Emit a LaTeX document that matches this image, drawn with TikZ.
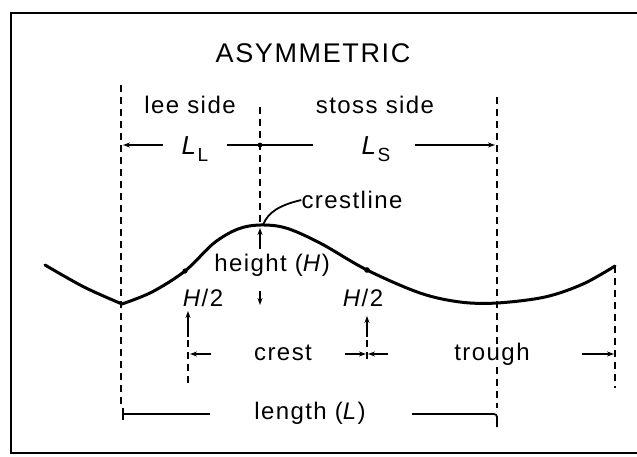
\documentclass[tikz,border=0pt]{standalone}
\usepackage{fontspec}
\setmainfont[LetterSpace=6]{Liberation Sans}
\usetikzlibrary{arrows.meta}
\begin{document}
\begin{tikzpicture}[x=1pt,y=-1pt,
  lbl/.style={font=\fontsize{24}{28}\selectfont, inner sep=0pt},
  ttl/.style={font=\fontsize{27}{30}\selectfont, inner sep=0pt},
  dashline/.style={dash pattern=on 7pt off 5pt, line width=1.8pt},
  arr/.style={line width=1.6pt, -{Stealth[length=7pt,width=5pt]}},
  plain/.style={line width=1.8pt},
  wave/.style={line width=3pt, line join=round, line cap=round},
  frame/.style={line width=2.2pt}]
\useasboundingbox (0,0) rectangle (637,456);
% frame (right side lies outside the picture)
\draw[frame] (660,13) -- (11,13) -- (11,453) -- (660,453);

% title and labels
\node[ttl] (title) at (313,53) {ASYMMETRIC};
\node[lbl] (lee) at (190,105) {lee side};
\node[lbl] (stoss) at (375,105) {stoss side};
\node[lbl] (LL) at (195,149) {\fontsize{26}{28}\selectfont\textit{L}\raisebox{-7pt}{\fontsize{19}{19}\selectfont L}};
\node[lbl] (LS) at (376,149) {\fontsize{26}{28}\selectfont\textit{L}\raisebox{-7pt}{\fontsize{19}{19}\selectfont S}};
\node[lbl] (crestline) at (352,200) {crestline};
\node[lbl] (height) at (272,265) {height (\textit{H})};
\node[lbl] (h2l) at (203,298) {\textit{H}/2};
\node[lbl] (h2r) at (363,298) {\textit{H}/2};
\node[lbl] (crest) at (283,353) {crest};
\node[lbl] (trough) at (492,354) {trough};
\node[lbl] (length) at (310,413) {length (\textit{L})};

% reference coordinates
\coordinate (Ltop) at (121,85);
\coordinate (Lbot) at (121,406);
\coordinate (Ctop) at (260,107);
\coordinate (Ccrest) at (260,225);
\coordinate (Rtop) at (497,97);
\coordinate (Rmid) at (497,345);
\coordinate (Rlow) at (497,367);
\coordinate (Rbot) at (497,408);
\coordinate (Ftop) at (615,266);
\coordinate (Fbot) at (615,388);
\coordinate (Hl) at (188,340);
\coordinate (Hlb) at (188,386);
\coordinate (Hr) at (367,340);
\coordinate (Hrb) at (367,362);

% dashed vertical lines
\draw[dashline] (Ltop) -- (Lbot);
\draw[dashline] (Ctop) -- (Ccrest);
\draw[dashline] (Rtop) -- (Rmid);
\draw[dashline] (Rlow) -- (Rbot);
\draw[dashline] (Ftop) -- (Fbot);
\draw[dashline] (Hl) -- (Hlb);
\draw[dashline] (Hr) -- (Hrb);

% the wave
\draw[wave] plot[smooth, tension=0.55] coordinates {(45,265) (84,287) (122,304)};
\draw[wave] plot[smooth, tension=0.55] coordinates {(122,304) (152,292) (185,271) (214,243) (238,229) (260,225) (286,228) (320,243) (367,270) (420,293) (460,302) (497,303) (545,297) (583,284) (615,266)};
\fill (185,271) circle (2.6);
\fill (367,270) circle (2.8);

% L_L and L_S dimension
\coordinate (a1) at (163,145);
\coordinate (a2) at (123,145);
\coordinate (a3) at (227,145);
\coordinate (a4) at (313,145);
\coordinate (a5) at (415,145);
\coordinate (a6) at (495,145);
\draw[arr] (a1) -- (a2);
\draw[plain] (a3) -- (a4);
\fill (260,145) circle (2.4);
\draw[arr] (a5) -- (a6);

% crestline leader
\draw[plain] (263,225) .. controls (268,212) and (280,205) .. (crestline.west);

% height arrows
\coordinate (hu1) at (260,249);
\coordinate (hu2) at (260,228);
\coordinate (hd1) at (260,291);
\coordinate (hd2) at (260,305);
\draw[arr] (hu1) -- (hu2);
\draw[arr] (hd1) -- (hd2);

% H/2 arrows
\coordinate (hl1) at (188,337);
\coordinate (hl2) at (188,311);
\coordinate (hr1) at (367,337);
\coordinate (hr2) at (367,316);
\draw[arr] (hl1) -- (hl2);
\draw[arr] (hr1) -- (hr2);

% crest / trough row
\coordinate (c1) at (211,354);
\coordinate (c2) at (190,354);
\coordinate (c3) at (345,354);
\coordinate (c4) at (366,354);
\coordinate (c5) at (388,354);
\coordinate (c6) at (368,354);
\coordinate (t1) at (582,354);
\coordinate (t2) at (614,354);
\draw[arr] (c1) -- (c2);
\draw[arr] (c3) -- (c4);
\draw[arr] (c5) -- (c6);
\draw[arr] (t1) -- (t2);

% length row
\coordinate (g0) at (123,408);
\coordinate (g1) at (123,420);
\coordinate (g2) at (123,414);
\coordinate (g3) at (210,414);
\coordinate (g4) at (412,414);
\coordinate (g5) at (497,414);
\coordinate (g6) at (497,427);
\draw[plain] (g0) -- (g1);
\draw[plain] (g2) -- (g3);
\draw[plain, rounded corners=3pt] (g4) -- (g5) -- (g6);
\end{tikzpicture}
\end{document}
